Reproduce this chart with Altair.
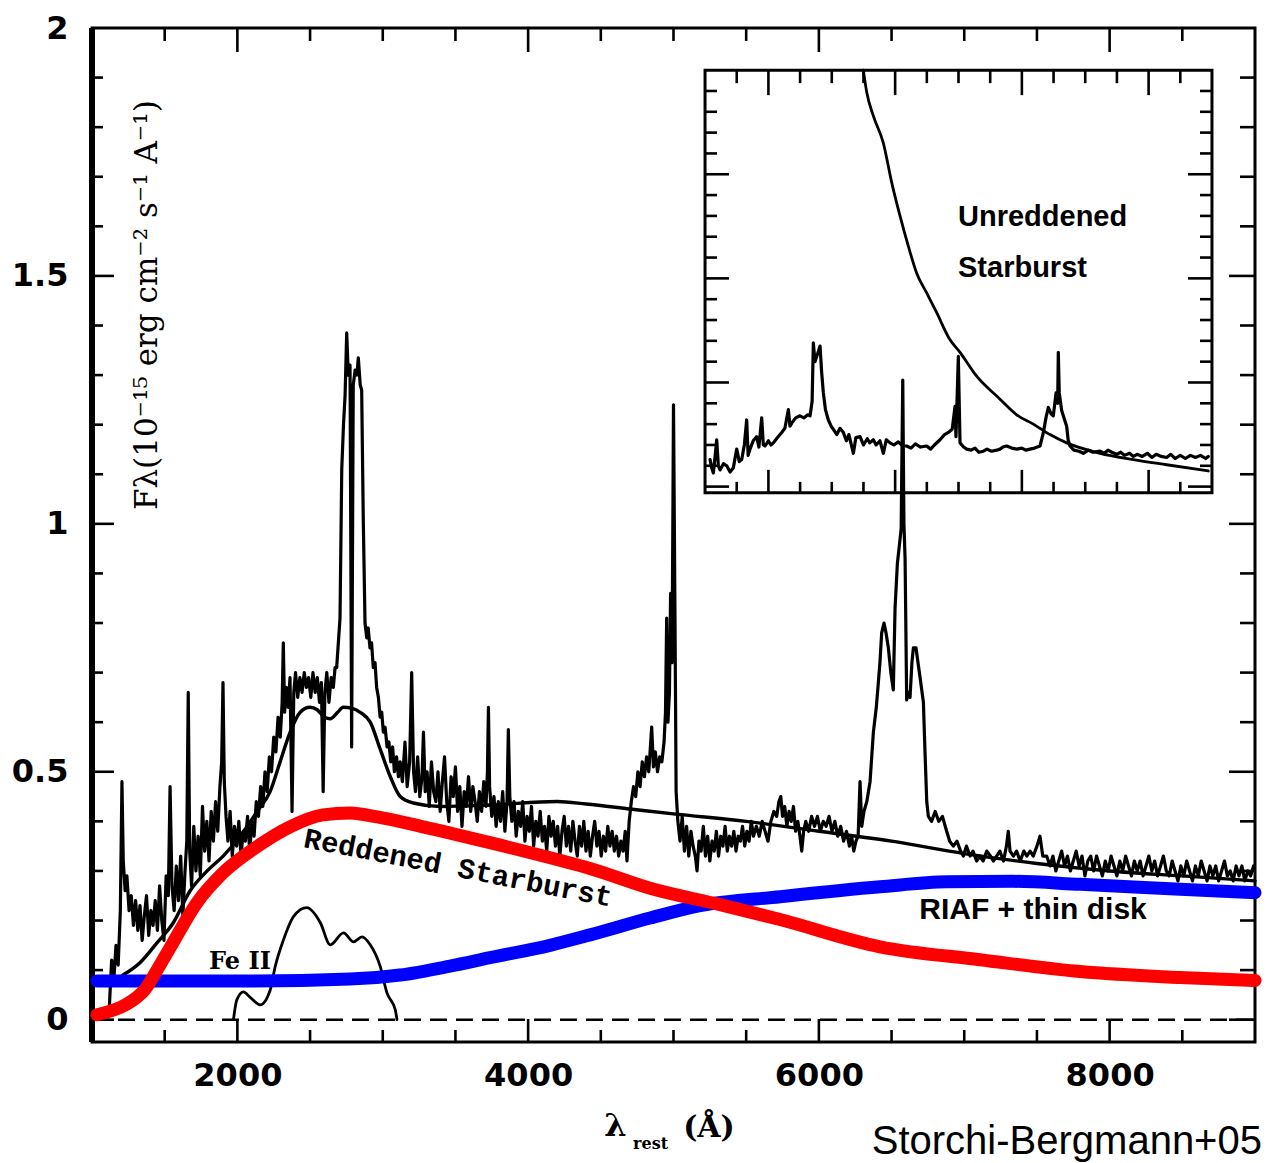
import altair as alt
import pandas as pd

# ---------------- data ----------------
# Observed spectrum (wavelength in Angstrom, flux in 1e-15 erg/cm2/s/A)
SPECTRUM = [
    (1120,0.03),(1135,0.12),(1150,0.08),(1165,0.15),(1180,0.11),(1195,0.22),(1206,0.48),(1215,0.32),(1228,0.26),(1240,0.29),
    (1255,0.22),(1270,0.25),(1285,0.19),(1300,0.24),(1315,0.18),(1330,0.23),(1345,0.16),(1360,0.21),(1375,0.25),(1390,0.17),
    (1405,0.22),(1420,0.19),(1435,0.24),(1450,0.18),(1465,0.27),(1480,0.20),(1495,0.16),(1510,0.29),(1525,0.25),(1537,0.47),
    (1550,0.27),(1565,0.22),(1580,0.31),(1595,0.24),(1610,0.33),(1625,0.21),(1640,0.30),(1652,0.36),(1662,0.66),(1672,0.34),
    (1685,0.27),(1700,0.39),(1715,0.30),(1730,0.37),(1745,0.29),(1760,0.43),(1775,0.34),(1790,0.40),(1805,0.32),(1820,0.42),
    (1835,0.36),(1850,0.44),(1865,0.38),(1880,0.47),(1892,0.52),(1901,0.68),(1910,0.48),(1922,0.41),(1935,0.36),(1950,0.42),
    (1965,0.33),(1980,0.39),(1995,0.35),(2010,0.40),(2025,0.33),(2040,0.38),(2055,0.36),(2070,0.41),(2085,0.34),(2100,0.40),
    (2115,0.37),(2130,0.44),(2145,0.41),(2160,0.47),(2175,0.43),(2190,0.50),(2205,0.46),(2220,0.53),(2235,0.50),(2250,0.57),
    (2265,0.54),(2280,0.61),(2295,0.57),(2308,0.64),(2316,0.76),(2325,0.62),(2338,0.67),(2350,0.63),(2362,0.69),(2376,0.42),
    (2388,0.66),(2400,0.70),(2415,0.65),(2430,0.69),(2445,0.66),(2460,0.70),(2475,0.67),(2490,0.69),(2505,0.65),(2520,0.70),
    (2535,0.66),(2550,0.69),(2565,0.64),(2578,0.68),(2590,0.46),(2602,0.66),(2615,0.70),(2630,0.64),(2645,0.69),(2660,0.67),
    (2672,0.71),(2683,0.71),(2706,0.81),(2718,1.11),(2730,1.20),(2741,1.26),(2752,1.385),(2763,1.30),(2775,1.32),(2786,0.55),
    (2797,1.28),(2810,1.31),(2822,1.30),(2832,1.335),(2845,1.28),(2855,1.27),(2866,1.01),(2878,0.80),(2890,0.77),(2900,0.79),
    (2912,0.75),(2923,0.76),(2935,0.71),(2947,0.72),(2958,0.67),(2970,0.65),(2982,0.61),(2993,0.62),(3004,0.58),(3016,0.59),
    (3030,0.55),(3042,0.56),(3055,0.52),(3068,0.55),(3080,0.50),(3095,0.53),(3108,0.49),(3120,0.52),(3135,0.48),(3153,0.56),
    (3168,0.47),(3185,0.52),(3199,0.70),(3212,0.50),(3225,0.46),(3240,0.53),(3255,0.45),(3270,0.49),(3280,0.58),(3292,0.46),
    (3305,0.50),(3320,0.43),(3335,0.52),(3350,0.46),(3365,0.44),(3380,0.50),(3395,0.42),(3410,0.48),(3425,0.53),(3440,0.44),
    (3455,0.40),(3470,0.49),(3485,0.45),(3500,0.51),(3515,0.42),(3530,0.47),(3545,0.39),(3560,0.46),(3575,0.43),(3590,0.49),
    (3605,0.42),(3620,0.47),(3635,0.44),(3650,0.40),(3665,0.46),(3680,0.42),(3695,0.48),(3710,0.43),(3720,0.50),(3727,0.63),
    (3735,0.47),(3750,0.41),(3765,0.45),(3780,0.39),(3795,0.44),(3810,0.40),(3825,0.46),(3840,0.38),(3855,0.44),(3864,0.585),
    (3874,0.45),(3888,0.40),(3903,0.44),(3918,0.37),(3933,0.42),(3948,0.39),(3963,0.44),(3978,0.36),(3993,0.41),(4008,0.38),
    (4023,0.43),(4038,0.35),(4053,0.40),(4068,0.37),(4083,0.42),(4098,0.36),(4113,0.39),(4128,0.34),(4143,0.41),(4158,0.37),
    (4173,0.40),(4188,0.35),(4203,0.39),(4218,0.33),(4233,0.38),(4248,0.41),(4263,0.35),(4278,0.39),(4293,0.34),(4308,0.40),
    (4323,0.36),(4338,0.33),(4353,0.39),(4368,0.35),(4383,0.40),(4398,0.34),(4413,0.38),(4428,0.33),(4443,0.37),(4458,0.40),
    (4473,0.35),(4488,0.38),(4503,0.33),(4518,0.37),(4533,0.34),(4548,0.39),(4563,0.35),(4578,0.38),(4593,0.34),(4608,0.37),
    (4623,0.33),(4638,0.36),(4653,0.34),(4668,0.38),(4680,0.32),(4695,0.40),(4710,0.44),(4725,0.47),(4740,0.45),(4755,0.50),
    (4770,0.47),(4785,0.52),(4800,0.49),(4815,0.53),(4830,0.50),(4850,0.59),(4862,0.51),(4875,0.54),(4890,0.50),(4905,0.53),
    (4920,0.52),(4935,0.56),(4945,0.62),(4953,0.81),(4962,0.60),(4972,0.66),(4980,0.86),(4990,0.72),(5000,1.24),(5010,0.82),
    (5018,0.46),(5030,0.40),(5045,0.36),(5060,0.41),(5075,0.34),(5090,0.39),(5105,0.33),(5120,0.38),(5135,0.35),(5150,0.33),
    (5162,0.30),(5175,0.36),(5190,0.34),(5205,0.39),(5220,0.33),(5235,0.37),(5250,0.32),(5265,0.36),(5280,0.34),(5295,0.38),
    (5310,0.33),(5325,0.37),(5340,0.35),(5355,0.39),(5370,0.34),(5385,0.37),(5400,0.35),(5415,0.38),(5430,0.34),(5445,0.37),
    (5460,0.36),(5475,0.39),(5490,0.35),(5505,0.38),(5520,0.36),(5535,0.40),(5550,0.37),(5570,0.39),(5590,0.37),(5610,0.40),
    (5630,0.38),(5650,0.36),(5670,0.40),(5690,0.42),(5710,0.41),(5725,0.44),(5738,0.45),(5750,0.41),(5765,0.43),(5780,0.39),
    (5795,0.42),(5810,0.40),(5825,0.43),(5840,0.38),(5855,0.40),(5870,0.37),(5882,0.34),(5895,0.38),(5910,0.40),(5930,0.38),
    (5950,0.41),(5970,0.39),(5990,0.41),(6010,0.38),(6030,0.40),(6050,0.39),(6070,0.41),(6090,0.38),(6110,0.40),(6130,0.37),
    (6150,0.39),(6170,0.36),(6190,0.38),(6210,0.35),(6225,0.37),(6240,0.34),(6255,0.36),(6270,0.37),(6283,0.48),(6295,0.39),
    (6310,0.42),(6330,0.44),(6352,0.48),(6375,0.58),(6395,0.63),(6409,0.68),(6420,0.72),(6432,0.78),(6448,0.80),(6462,0.78),
    (6478,0.75),(6495,0.70),(6512,0.665),(6524,0.83),(6540,0.92),(6555,0.96),(6566,0.99),(6577,1.29),(6585,1.00),(6593,0.93),
    (6604,0.645),(6616,0.66),(6627,0.65),(6640,0.72),(6650,0.75),(6668,0.75),(6682,0.72),(6696,0.69),(6710,0.66),(6719,0.64),
    (6730,0.54),(6742,0.44),(6753,0.41),(6775,0.40),(6800,0.42),(6825,0.40),(6850,0.41),(6879,0.38),(6900,0.36),(6925,0.35),
    (6950,0.36),(6975,0.34),(6994,0.33),(7015,0.35),(7040,0.33),(7060,0.34),(7085,0.32),(7108,0.33),(7130,0.32),(7155,0.34),
    (7180,0.33),(7200,0.32),(7223,0.33),(7245,0.34),(7270,0.32),(7290,0.35),(7303,0.38),(7315,0.34),(7338,0.33),(7360,0.34),
    (7385,0.32),(7410,0.34),(7430,0.33),(7453,0.34),(7475,0.33),(7500,0.35),(7521,0.37),(7540,0.33),(7567,0.33),(7590,0.31),
    (7610,0.33),(7630,0.30),(7650,0.32),(7670,0.34),(7690,0.31),(7710,0.33),(7730,0.30),(7750,0.32),(7770,0.34),(7790,0.31),
    (7810,0.33),(7830,0.29),(7850,0.32),(7870,0.33),(7890,0.30),(7910,0.33),(7930,0.31),(7950,0.29),(7970,0.32),(7990,0.30),
    (8010,0.33),(8030,0.31),(8050,0.29),(8070,0.32),(8090,0.30),(8110,0.33),(8130,0.31),(8150,0.29),(8170,0.32),(8190,0.30),
    (8210,0.32),(8230,0.29),(8250,0.31),(8270,0.33),(8290,0.30),(8310,0.32),(8330,0.29),(8350,0.31),(8370,0.33),(8390,0.30),
    (8410,0.29),(8430,0.32),(8450,0.30),(8470,0.28),(8490,0.31),(8510,0.29),(8530,0.32),(8550,0.30),(8570,0.28),(8590,0.31),
    (8610,0.29),(8630,0.32),(8650,0.30),(8670,0.28),(8690,0.31),(8710,0.29),(8730,0.31),(8750,0.28),(8770,0.30),(8790,0.32),
    (8810,0.29),(8830,0.30),(8850,0.28),(8870,0.31),(8890,0.29),(8910,0.31),(8930,0.28),(8950,0.30),(8970,0.29),(8990,0.31),
]

# Smooth black model (starburst + Fe II + RIAF fit)
MODEL = [
    (1213,0.09),(1330,0.115),(1447,0.155),(1558,0.195),(1675,0.26),(1792,0.30),(1902,0.33),(2019,0.37),(2136,0.42),
    (2225,0.46),(2294,0.52),(2363,0.58),(2432,0.62),(2500,0.63),(2549,0.625),(2600,0.61),(2639,0.607),(2690,0.62),
    (2728,0.63),(2790,0.628),(2845,0.62),(2914,0.60),(2983,0.545),(3052,0.49),(3120,0.45),(3210,0.437),(3396,0.43),
    (3740,0.433),(4200,0.44),(4400,0.435),(4700,0.425),(5000,0.415),(5500,0.40),(6000,0.38),(6500,0.36),(7000,0.335),
    (7500,0.315),(8000,0.30),(8500,0.29),(9000,0.28),
]

# Reddened starburst (red)
RED = [
    (1034,0.01),(1350,0.056),(1447,0.10),(1537,0.145),(1722,0.236),(1901,0.296),(2135,0.349),(2362,0.389),(2589,0.413),
    (2775,0.417),(2961,0.409),(3277,0.389),(3738,0.357),(4199,0.323),(4426,0.305),(4839,0.265),(5320,0.232),(5733,0.202),
    (6421,0.147),(7109,0.121),(7797,0.097),(8485,0.085),(9000,0.079),
]

# RIAF + thin disk (blue)
BLUE = [
    (1034,0.078),(2087,0.078),(2775,0.082),(3119,0.09),(3463,0.108),(3738,0.125),(4151,0.15),(4426,0.171),(4839,0.205),
    (5183,0.230),(5733,0.248),(6421,0.268),(6882,0.278),(7336,0.279),(7797,0.273),(8485,0.263),(9000,0.256),
]

# Fe II template
FEII = [
    (1973,0.0),(1996,0.04),(2042,0.056),(2088,0.045),(2157,0.03),(2226,0.06),(2260,0.107),(2317,0.161),(2386,0.208),
    (2478,0.226),(2570,0.196),(2639,0.151),(2730,0.175),(2799,0.157),(2857,0.167),(2914,0.151),(2983,0.107),(3029,0.054),
    (3086,0.02),(3098,0.0),
]

# Inset: spectrum and unreddened starburst (inset units)
INSET_SPECTRUM = [
    (1079,0.26),(1105,0.18),(1131,0.13),(1160,0.30),(1184,0.45),(1210,0.20),(1237,0.16),(1290,0.22),(1342,0.20),(1395,0.14),
    (1447,0.18),(1475,0.28),(1500,0.36),(1540,0.24),(1579,0.26),(1620,0.40),(1657,0.64),(1680,0.30),(1710,0.36),(1760,0.44),
    (1815,0.48),(1850,0.38),(1894,0.66),(1920,0.40),(1947,0.39),(2000,0.44),(2040,0.40),(2078,0.42),(2140,0.47),(2210,0.52),
    (2260,0.56),(2315,0.74),(2340,0.58),(2368,0.61),(2430,0.66),(2499,0.68),(2560,0.66),(2620,0.69),(2657,0.68),(2690,0.82),
    (2709,1.38),(2735,1.20),(2762,1.25),(2790,1.30),(2815,1.35),(2840,1.10),(2867,0.90),(2900,0.74),(2946,0.64),(2990,0.58),
    (3025,0.55),(3080,0.50),(3130,0.56),(3183,0.52),(3230,0.44),(3270,0.50),(3341,0.32),(3380,0.47),(3446,0.48),(3500,0.40),
    (3560,0.46),(3600,0.42),(3656,0.45),(3700,0.40),(3760,0.44),(3814,0.32),(3860,0.45),(3919,0.42),(3980,0.40),(4050,0.43),
    (4120,0.39),(4182,0.39),(4250,0.37),(4320,0.41),(4400,0.38),(4498,0.39),(4560,0.36),(4620,0.40),(4708,0.45),(4780,0.50),
    (4840,0.52),(4900,0.55),(4945,0.77),(4960,0.48),(4997,1.25),(5024,0.42),(5080,0.38),(5129,0.36),(5200,0.35),(5260,0.37),
    (5320,0.33),(5392,0.34),(5450,0.36),(5520,0.34),(5600,0.35),(5655,0.36),(5700,0.38),(5760,0.39),(5840,0.37),(5920,0.36),
    (6000,0.37),(6060,0.35),(6128,0.36),(6200,0.37),(6286,0.39),(6340,0.52),(6380,0.66),(6417,0.76),(6460,0.70),(6496,0.68),
    (6540,0.90),(6565,0.80),(6575,1.29),(6590,0.90),(6628,0.73),(6670,0.65),(6707,0.58),(6730,0.45),(6759,0.39),(6820,0.35),
    (6900,0.34),(6970,0.32),(7050,0.35),(7120,0.33),(7233,0.34),(7300,0.32),(7360,0.35),(7420,0.33),(7496,0.31),(7560,0.33),
    (7620,0.30),(7700,0.32),(7759,0.29),(7820,0.31),(7900,0.29),(7980,0.32),(8050,0.28),(8120,0.31),(8200,0.29),(8285,0.28),
    (8350,0.31),(8420,0.27),(8500,0.30),(8580,0.27),(8660,0.30),(8740,0.28),(8820,0.30),(8900,0.27),(8942,0.29),
]
INSET_UNREDDENED = [
    (3498,4.0),(3551,3.79),(3656,3.56),(3814,3.30),(3946,2.92),(4077,2.60),(4208,2.31),(4340,2.05),(4498,1.86),(4656,1.67),
    (4866,1.41),(5024,1.29),(5287,1.06),(5655,0.84),(5918,0.69),(6181,0.60),(6444,0.50),(6707,0.42),(7233,0.32),(7759,0.26),
    (8285,0.21),(8942,0.15),
]

# Axes / ticks
X_DOMAIN = [1000, 9000]
Y_DOMAIN = [-0.045, 2.0]
X_MAJOR = [2000, 4000, 6000, 8000]
X_MINOR = [1500, 2500, 3000, 3500, 4500, 5000, 5500, 6500, 7000, 7500, 8500]
Y_LABELS = [0, 0.5, 1, 1.5, 2]
Y_MAJOR = [0, 0.5, 1, 1.5]
Y_MINOR = [0.1, 0.2, 0.3, 0.4, 0.6, 0.7, 0.8, 0.9, 1.1, 1.2, 1.3, 1.4, 1.6, 1.7, 1.8, 1.9]

INSET_X_DOMAIN = [1000, 9000]
INSET_Y_DOMAIN = [-0.06, 4.0]
INSET_X_MAJOR = [2000, 4000, 6000, 8000]
INSET_X_MINOR = [1500, 2500, 3000, 3500, 4500, 5000, 5500, 6500, 7000, 7500, 8500]
INSET_Y_MAJOR = [0, 1, 2, 3]
INSET_Y_MINOR = [0.2, 0.4, 0.6, 0.8, 1.2, 1.4, 1.6, 1.8, 2.2, 2.4, 2.6, 2.8, 3.2, 3.4, 3.6, 3.8]
# inset box in main-plot data coordinates
INSET_BOX = (5217, 8704, 1.0625, 1.915)

# Texts: (text, x, y) in data coordinates
Y_TITLE = ("F\u03bb(10\u207b\u00b9\u2075  erg  cm\u207b\u00b2  s\u207b\u00b9  A\u207b\u00b9)", 1385, 1.441)
X_TITLE_LAMBDA = ("\u03bb", 4600, -0.215)
X_TITLE_SUB = ("rest", 4842, -0.250)
X_TITLE_UNIT = ("(\u00c5)", 5244, -0.219)
CREDIT = ("Storchi-Bergmann+05", 9048, -0.247)
FE_LABEL = ("Fe II", 2018, 0.116)
RED_LABEL = ("Reddened Starburst", 3518, 0.306)
BLUE_LABEL = ("RIAF + thin disk", 7473, 0.221)
INSET_LABEL_1 = ("Unreddened", 6957, 1.619)
INSET_LABEL_2 = ("Starburst", 6957, 1.516)

# ---------------- chart ----------------
W, H = 1163, 1014
PXX = W / (X_DOMAIN[1] - X_DOMAIN[0])
PXY = H / (Y_DOMAIN[1] - Y_DOMAIN[0])

XS = alt.Scale(domain=X_DOMAIN, nice=False, zero=False)
YS = alt.Scale(domain=Y_DOMAIN, nice=False, zero=False)
XAXIS = alt.Axis(values=X_MAJOR, format="d", labelFont="DejaVu Sans", labelFontWeight="bold",
                 labelFontSize=32, labelPadding=18, ticks=False, tickSize=0, domain=False, grid=False,
                 title=None, labelColor="black", labelFlush=False, labelOverlap=False)
YAXIS = alt.Axis(values=Y_LABELS, format="~g", labelFont="DejaVu Sans", labelFontWeight="bold",
                 labelFontSize=32, labelPadding=24, ticks=False, tickSize=0, domain=False, grid=False,
                 title=None, labelColor="black", labelFlush=False, labelOverlap=False)


def X(f):
    return alt.X(f, type="quantitative", scale=XS, axis=XAXIS)


def Y(f):
    return alt.Y(f, type="quantitative", scale=YS, axis=YAXIS)


def pairs_df(pairs):
    return pd.DataFrame(pairs, columns=["x", "y"])


def inset_x(w):
    x0, x1, _, _ = INSET_BOX
    return x0 + (w - INSET_X_DOMAIN[0]) / (INSET_X_DOMAIN[1] - INSET_X_DOMAIN[0]) * (x1 - x0)


def inset_y(f):
    _, _, y0, y1 = INSET_BOX
    return y0 + (f - INSET_Y_DOMAIN[0]) / (INSET_Y_DOMAIN[1] - INSET_Y_DOMAIN[0]) * (y1 - y0)


def inset_df(pairs):
    return pd.DataFrame({"x": [inset_x(w) for w, _ in pairs], "y": [inset_y(f) for _, f in pairs]})


def line(df, color, width, interp="linear"):
    return alt.Chart(df).mark_line(color=color, strokeWidth=width, interpolate=interp,
                                   strokeJoin="round", strokeCap="round").encode(
        x=X("x"), y=Y("y"), order="x:Q")


def text(item, size, font, weight="normal", angle=0, align="center", color="black"):
    t, x, y = item
    df = pd.DataFrame({"x": [x], "y": [y], "t": [t]})
    kw = dict(fontSize=size, font=font, fontWeight=weight, align=align, baseline="middle", color=color)
    if angle:
        kw["angle"] = angle
    return alt.Chart(df).mark_text(**kw).encode(x=X("x"), y=Y("y"), text="t:N")


# tick rows (main frame, ticks point inwards)
MAJ, MIN = 23, 12
tick_rows = []
for v, L in [(v, MAJ) for v in X_MAJOR] + [(v, MIN) for v in X_MINOR]:
    tick_rows.append((v, v, Y_DOMAIN[0], Y_DOMAIN[0] + L / PXY))
    tick_rows.append((v, v, Y_DOMAIN[1], Y_DOMAIN[1] - (L + 1) / PXY))
for v, L in [(v, MAJ) for v in Y_MAJOR] + [(v, MIN) for v in Y_MINOR]:
    tick_rows.append((X_DOMAIN[0], X_DOMAIN[0] + (L - 1) / PXX, v, v))
    tick_rows.append((X_DOMAIN[1], X_DOMAIN[1] - (L + 3) / PXX, v, v))
# inset ticks
IMAJ, IMIN = 25, 13
x0, x1, y0, y1 = INSET_BOX
for v, L in [(v, IMAJ) for v in INSET_X_MAJOR] + [(v, IMIN) for v in INSET_X_MINOR]:
    tick_rows.append((inset_x(v), inset_x(v), y0, y0 + (L - 2) / PXY))
    tick_rows.append((inset_x(v), inset_x(v), y1, y1 - L / PXY))
for v, L in [(v, IMAJ - 1) for v in INSET_Y_MAJOR] + [(v, IMIN - 1) for v in INSET_Y_MINOR]:
    tick_rows.append((x0, x0 + L / PXX, inset_y(v), inset_y(v)))
    tick_rows.append((x1, x1 - L / PXX, inset_y(v), inset_y(v)))
ticks_df = pd.DataFrame(tick_rows, columns=["x", "x2", "y", "y2"])

ticks = alt.Chart(ticks_df).mark_rule(color="black", strokeWidth=2.6).encode(
    x=X("x"), x2="x2", y=Y("y"), y2="y2")

left_edge = alt.Chart(pd.DataFrame({"x": [X_DOMAIN[0]], "y": [Y_DOMAIN[0]], "y2": [Y_DOMAIN[1]]})).mark_rule(
    color="black", strokeWidth=6).encode(x=X("x"), y=Y("y"), y2="y2")

zero_line = alt.Chart(pd.DataFrame({"x": [X_DOMAIN[0]], "x2": [X_DOMAIN[1]], "y": [0.0]})).mark_rule(
    color="black", strokeWidth=2.6, strokeDash=[17, 9]).encode(x=X("x"), x2="x2", y=Y("y"))

inset_frame = alt.Chart(pd.DataFrame({"x": [x0], "x2": [x1], "y": [y0], "y2": [y1]})).mark_rect(
    fill=None, stroke="black", strokeWidth=3, filled=False).encode(x=X("x"), x2="x2", y=Y("y"), y2="y2")

layers = [
    zero_line,
    ticks,
    left_edge,
    inset_frame,
    line(inset_df(INSET_SPECTRUM), "black", 3.2),
    line(inset_df(INSET_UNREDDENED), "black", 2.8, "monotone"),
    line(pairs_df(SPECTRUM), "black", 3.2),
    line(pairs_df(MODEL), "black", 3.4, "monotone"),
    line(pairs_df(FEII), "black", 2.8, "monotone"),
    line(pairs_df(BLUE), "#0000ff", 13, "monotone"),
    line(pairs_df(RED), "#ff0000", 13, "monotone"),
    text(Y_TITLE, 31, "DejaVu Serif", angle=270),
    text(X_TITLE_LAMBDA, 32, "DejaVu Serif", "bold"),
    text(X_TITLE_SUB, 16, "DejaVu Serif", "bold"),
    text(X_TITLE_UNIT, 30, "DejaVu Serif", "bold"),
    text(CREDIT, 40, "Liberation Sans", align="right"),
    text(FE_LABEL, 24, "DejaVu Serif", "bold"),
    text(RED_LABEL, 29, "Liberation Mono", "bold", angle=11),
    text(BLUE_LABEL, 30, "Liberation Sans", "bold"),
    text(INSET_LABEL_1, 29, "Liberation Sans", "bold", align="left"),
    text(INSET_LABEL_2, 29, "Liberation Sans", "bold", align="left"),
]

chart = alt.layer(*layers).properties(
    width=W, height=H,
    padding={"left": 92, "top": 28, "right": 13, "bottom": 121},
    autosize=alt.AutoSizeParams(type="none"),
    background="white",
).configure_view(stroke="black", strokeWidth=3)

chart.save("out.html", embed_options={"renderer": "svg", "actions": False})
